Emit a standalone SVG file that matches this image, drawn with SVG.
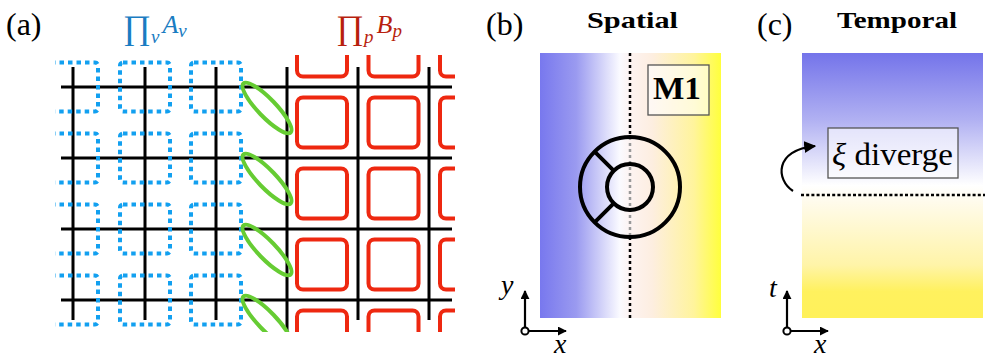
<svg xmlns="http://www.w3.org/2000/svg" width="988" height="358" viewBox="0 0 988 358">
<style>
.it{font-style:italic}
.bd{font-weight:bold}
.grid{stroke:#000;stroke-width:3;fill:none}
.star{fill:none;stroke:#12a0f0;stroke-width:4;stroke-dasharray:4.5 4}
.plaq{fill:none;stroke:#ee2810;stroke-width:4}
.bond{fill:none;stroke:#66cc33;stroke-width:4}
.ax{stroke:#000;stroke-width:2.2;fill:none}
.box{fill:#fff;fill-opacity:0.6;stroke:#555;stroke-width:1.3}
</style>
<defs>
<marker id="ah" viewBox="0 0 10 10" refX="9" refY="5" markerWidth="9" markerHeight="9" markerUnits="userSpaceOnUse" orient="auto">
<path d="M0,0 L10,5 L0,10 z" fill="#000"/>
</marker>
<marker id="ah2" viewBox="0 0 10 10" refX="9" refY="5" markerWidth="12" markerHeight="12" markerUnits="userSpaceOnUse" orient="auto">
<path d="M0,0 L10,5 L0,10 z" fill="#000"/>
</marker>
<clipPath id="cb"><rect x="55" y="50" width="200" height="290"/></clipPath>
<clipPath id="cr"><rect x="289" y="55" width="166" height="277"/></clipPath>
<clipPath id="cg"><rect x="230" y="60" width="80" height="272"/></clipPath>
<linearGradient id="gs" x1="0" y1="0" x2="1" y2="0">
<stop offset="0" stop-color="#7878ee"/>
<stop offset="0.2" stop-color="#9a9af0"/>
<stop offset="0.44" stop-color="#fafaff"/>
<stop offset="0.5" stop-color="#fdf3f1"/>
<stop offset="0.62" stop-color="#fdeee0"/>
<stop offset="0.85" stop-color="#fff49c"/>
<stop offset="1" stop-color="#ffff3c"/>
</linearGradient>
<linearGradient id="gt" x1="0" y1="0" x2="0" y2="1">
<stop offset="0" stop-color="#7474ea"/>
<stop offset="0.25" stop-color="#b0b0f2"/>
<stop offset="0.5" stop-color="#ffffff"/>
<stop offset="0.56" stop-color="#fffbec"/>
<stop offset="0.8" stop-color="#fff4a8"/>
<stop offset="0.9" stop-color="#fff15e"/>
<stop offset="1" stop-color="#fff15a"/>
</linearGradient>
</defs>

<g id="panel-a">
<text font-family="Liberation Serif, serif" x="6" y="35" font-size="32">(a)</text>
<g id="label-A">
<text font-family="Liberation Serif, serif" x="123" y="39" font-size="34" fill="#1a7cc2">∏<tspan class="it" font-size="19" dy="4">v</tspan><tspan class="it" font-size="26" dx="3" dy="-10">A</tspan><tspan class="it" font-size="19" dy="4">v</tspan></text>
</g>
<g id="label-B">
<text font-family="Liberation Serif, serif" x="336" y="39" font-size="34" fill="#b81f0e">∏<tspan class="it" font-size="19" dy="4">p</tspan><tspan class="it" font-size="26" dx="3" dy="-10">B</tspan><tspan class="it" font-size="19" dy="4">p</tspan></text>
</g>
<g id="lattice">
<path class="grid" d="M61 87H452M61 158H452M61 229H452M61 300H452M73 67V320M145 67V320M216 67V320M287 67V332M358 67V320M429 67V320"/>
</g>
<g id="stars" clip-path="url(#cb)">
<rect class="star" x="48" y="62.5" width="50" height="49" rx="3"/>
<rect class="star" x="120" y="62.5" width="50" height="49" rx="3"/>
<rect class="star" x="191" y="62.5" width="50" height="49" rx="3"/>
<rect class="star" x="48" y="133.5" width="50" height="49" rx="3"/>
<rect class="star" x="120" y="133.5" width="50" height="49" rx="3"/>
<rect class="star" x="191" y="133.5" width="50" height="49" rx="3"/>
<rect class="star" x="48" y="204.5" width="50" height="49" rx="3"/>
<rect class="star" x="120" y="204.5" width="50" height="49" rx="3"/>
<rect class="star" x="191" y="204.5" width="50" height="49" rx="3"/>
<rect class="star" x="48" y="275.5" width="50" height="49" rx="3"/>
<rect class="star" x="120" y="275.5" width="50" height="49" rx="3"/>
<rect class="star" x="191" y="275.5" width="50" height="49" rx="3"/>
</g>
<g id="plaquettes" clip-path="url(#cr)">
<rect class="plaq" x="297" y="26.5" width="50" height="50" rx="6"/>
<rect class="plaq" x="368.5" y="26.5" width="50" height="50" rx="6"/>
<rect class="plaq" x="440" y="26.5" width="50" height="50" rx="6"/>
<rect class="plaq" x="297" y="97.5" width="50" height="50" rx="6"/>
<rect class="plaq" x="368.5" y="97.5" width="50" height="50" rx="6"/>
<rect class="plaq" x="440" y="97.5" width="50" height="50" rx="6"/>
<rect class="plaq" x="297" y="168.5" width="50" height="50" rx="6"/>
<rect class="plaq" x="368.5" y="168.5" width="50" height="50" rx="6"/>
<rect class="plaq" x="440" y="168.5" width="50" height="50" rx="6"/>
<rect class="plaq" x="297" y="239.5" width="50" height="50" rx="6"/>
<rect class="plaq" x="368.5" y="239.5" width="50" height="50" rx="6"/>
<rect class="plaq" x="440" y="239.5" width="50" height="50" rx="6"/>
<rect class="plaq" x="297" y="310.5" width="50" height="50" rx="6"/>
<rect class="plaq" x="368.5" y="310.5" width="50" height="50" rx="6"/>
<rect class="plaq" x="440" y="310.5" width="50" height="50" rx="6"/>
</g>
<g id="bonds" clip-path="url(#cg)">
<ellipse class="bond" cx="267" cy="108" rx="34" ry="9" transform="rotate(46 267 108)"/>
<ellipse class="bond" cx="267" cy="179" rx="34" ry="9" transform="rotate(46 267 179)"/>
<ellipse class="bond" cx="267" cy="250" rx="34" ry="9" transform="rotate(46 267 250)"/>
<ellipse class="bond" cx="267" cy="321" rx="34" ry="9" transform="rotate(46 267 321)"/>
</g>
</g>

<g id="panel-b">
<text font-family="Liberation Serif, serif" x="486" y="35" font-size="32">(b)</text>
<text font-family="Liberation Serif, serif" font-weight="bold" x="587" y="28" font-size="23" textLength="91" lengthAdjust="spacingAndGlyphs">Spatial</text>
<rect id="spatial-field" x="540" y="53" width="181" height="265" fill="url(#gs)"/>
<g id="domain-wall">
<path d="M630 53V137M630 237V318" stroke="#000" stroke-width="2.5" stroke-dasharray="3 3"/>
<path d="M630 137V237" stroke="#999" stroke-width="2.5" stroke-dasharray="3 3"/>
</g>
<g id="defect" fill="none" stroke="#000" stroke-width="4">
<circle cx="630" cy="187" r="50"/>
<circle cx="630" cy="187" r="23"/>
<path d="M594.6 151.6L613.7 170.7M594.6 222.4L613.7 203.3"/>
</g>
<g id="M1">
<rect class="box" x="648" y="65" width="61" height="50"/>
<text font-family="Liberation Serif, serif" font-weight="bold" x="653" y="99" font-size="31" textLength="48" lengthAdjust="spacingAndGlyphs">M1</text>
</g>
<g id="axes-b">
<path class="ax" d="M525 327V291" marker-end="url(#ah)"/>
<path class="ax" d="M529 331H566" marker-end="url(#ah)"/>
<circle cx="525" cy="331" r="3.6" fill="#fff" stroke="#000" stroke-width="2"/>
<text font-family="Liberation Serif, serif" font-style="italic" x="501" y="294" font-size="28">y</text>
<text font-family="Liberation Serif, serif" font-style="italic" x="554" y="353" font-size="28">x</text>
</g>
</g>

<g id="panel-c">
<text font-family="Liberation Serif, serif" x="757" y="35" font-size="32">(c)</text>
<text font-family="Liberation Serif, serif" font-weight="bold" x="837" y="28" font-size="23" textLength="120" lengthAdjust="spacingAndGlyphs">Temporal</text>
<rect id="temporal-field" x="802" y="53" width="181" height="265" fill="url(#gt)"/>
<path id="transition" d="M801 195H985" stroke="#000" stroke-width="2.5" stroke-dasharray="3 2.2"/>
<g id="xi-box">
<rect class="box" x="828" y="128" width="130" height="50"/>
<text font-family="Liberation Serif, serif" x="832" y="165" font-size="31" textLength="121" lengthAdjust="spacingAndGlyphs"><tspan font-style="italic">ξ</tspan> diverge</text>
</g>
<path id="xi-arrow" class="ax" d="M793 191C776 180 774 150 815 146" marker-end="url(#ah2)"/>
<g id="axes-c">
<path class="ax" d="M787 327V291" marker-end="url(#ah)"/>
<path class="ax" d="M791 331H828" marker-end="url(#ah)"/>
<circle cx="787" cy="331" r="3.6" fill="#fff" stroke="#000" stroke-width="2"/>
<text font-family="Liberation Serif, serif" font-style="italic" x="769" y="297" font-size="28">t</text>
<text font-family="Liberation Serif, serif" font-style="italic" x="814" y="353" font-size="28">x</text>
</g>
</g>
</svg>
